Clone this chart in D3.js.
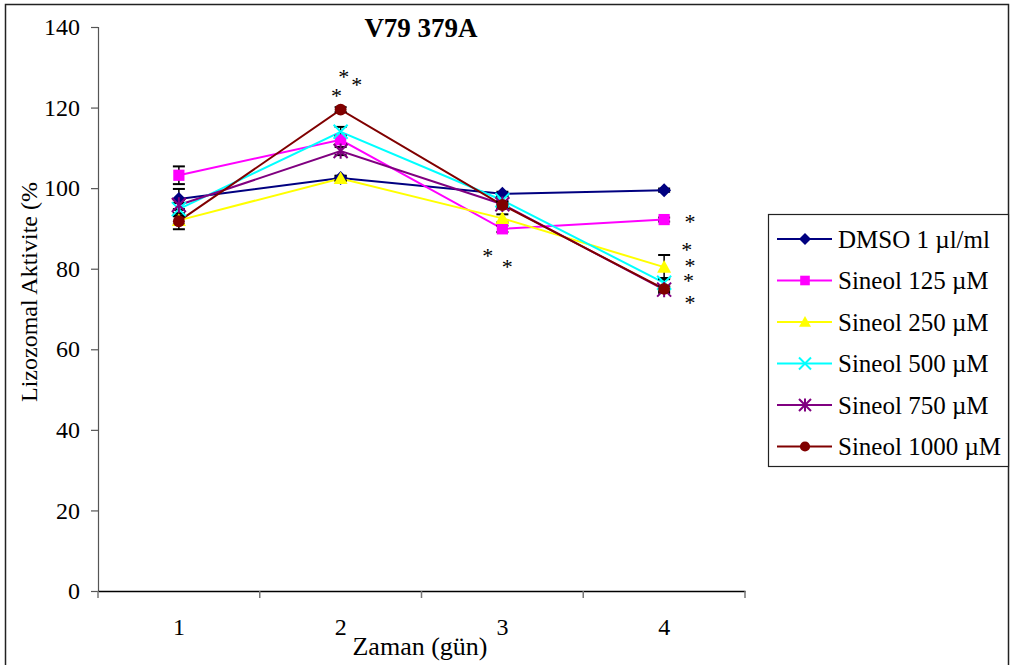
<!DOCTYPE html>
<html>
<head>
<meta charset="utf-8">
<script src="https://cdn.jsdelivr.net/npm/d3@7"></script>
<style>
  body { margin: 0; background: #fff; }
  svg { display: block; font-family: "Liberation Serif", "Times New Roman", serif; }
</style>
</head>
<body>
<div class="chart"></div>
<script>
// days on the x axis
const days = ['1', '2', '3', '4'];

// series names + values (%)
const seriesNames = ['DMSO 1 µl/ml', 'Sineol 125 µM', 'Sineol 250 µM', 'Sineol 500 µM', 'Sineol 750 µM', 'Sineol 1000 µM'];
const dmso   = [97.3, 102.5, 98.6, 99.5];
const s125   = [103.2, 112.0, 89.9, 92.2];
const s250   = [92.0, 102.4, 92.5, 80.4];
const s500   = [94.8, 114.0, 97.0, 76.5];
const s750   = [95.8, 109.2, 96.0, 74.8];
const s1000  = [91.8, 119.5, 95.8, 75.0];

// error bar half widths
const errDmso  = [2.5, 0.6, 0.5, 0.4];
const err125   = [2.2, 1.0, 0.8, 0.5];
const err250   = [1.0, 0.6, 1.0, 3.0];
const err500   = [1.5, 1.2, 1.0, 1.2];
const err750   = [1.2, 1.0, 0.8, 0.8];
const err1000  = [2.0, 0.6, 0.8, 0.6];

// significance stars: [day, offset in days, value]
const starDays   = [2, 2, 2, 3, 3, 4, 4, 4, 4, 4];
const starOffset = [-0.025, 0.02, 0.1, -0.09, 0.03, 0.16, 0.14, 0.16, 0.15, 0.16];
const starValue  = [123.9, 128.6, 126.6, 84.1, 81.4, 92.6, 85.6, 81.7, 77.9, 72.5];

const yTicks = [0, 20, 40, 60, 80, 100, 120, 140];

const colors  = ['#000080', '#ff00ff', '#ffff00', '#00ffff', '#800080', '#800000'];
const symbols = ['diamond', 'square', 'triangle', 'x', 'star', 'circle'];
const values  = [dmso, s125, s250, s500, s750, s1000];
const errors  = [errDmso, err125, err250, err500, err750, err1000];

const W = 1010, H = 665;
const margin = { top: 27, left: 98, right: 265, bottom: 74 };
const width = W - margin.left - margin.right;
const height = H - margin.top - margin.bottom;

const svg = d3.select('.chart')
  .append('svg')
  .attr('width', W)
  .attr('height', H);

// outer frame
svg.append('rect')
  .attr('x', 5.5).attr('y', 4.5)
  .attr('width', 1003).attr('height', 680)
  .attr('fill', 'none')
  .attr('stroke', '#222')
  .attr('stroke-width', 1.5);

const g = svg.append('g')
  .attr('transform', `translate(${margin.left},${margin.top})`);

const xBand = d3.scaleBand().domain(days).range([0, width]);
const x = d3.scalePoint().domain(days).range([0, width]).padding(0.5);
const y = d3.scaleLinear().domain([0, 140]).range([height, 0]);

// y axis
const yAxis = g.append('g')
  .call(d3.axisLeft(y).tickValues(yTicks).tickSize(7).tickPadding(11));
yAxis.select('.domain').attr('stroke', '#555').attr('stroke-width', 1.2);
yAxis.selectAll('.tick line').attr('stroke', '#555').attr('stroke-width', 1.2);
yAxis.selectAll('text')
  .attr('fill', '#000')
  .style('font-size', '24px')
  .style('font-family', '"Liberation Serif", serif');

// x axis
const xAxis = g.append('g')
  .attr('transform', `translate(0,${height})`)
  .call(d3.axisBottom(xBand).tickSize(0).tickPadding(27).tickSizeOuter(0));
xAxis.select('.domain').attr('stroke', '#000').attr('stroke-width', 1.5);
xAxis.selectAll('text')
  .attr('fill', '#000')
  .style('font-size', '24px')
  .style('font-family', '"Liberation Serif", serif');
xAxis.selectAll('.bound')
  .data(d3.range(days.length + 1))
  .join('line')
  .attr('class', 'bound')
  .attr('x1', i => i * xBand.step())
  .attr('x2', i => i * xBand.step())
  .attr('y1', 0)
  .attr('y2', 7)
  .attr('stroke', '#777')
  .attr('stroke-width', 1.5);

// title + axis titles
svg.append('text')
  .attr('x', 421).attr('y', 37)
  .attr('text-anchor', 'middle')
  .style('font-size', '27px')
  .style('font-weight', 'bold')
  .text('V79 379A');

svg.append('text')
  .attr('transform', 'translate(37,292) rotate(-90)')
  .attr('text-anchor', 'middle')
  .style('font-size', '24px')
  .text('Lizozomal Aktivite (%');

svg.append('text')
  .attr('x', 420).attr('y', 655)
  .attr('text-anchor', 'middle')
  .style('font-size', '26px')
  .text('Zaman (gün)');

// marker drawing
function marker(sel, type, color, s) {
  if (type === 'diamond') {
    sel.append('path').attr('d', `M0,${-s}L${s},0L0,${s}L${-s},0Z`).attr('fill', color);
  } else if (type === 'square') {
    sel.append('rect').attr('x', -s * 0.8).attr('y', -s * 0.8)
      .attr('width', s * 1.6).attr('height', s * 1.6).attr('fill', color);
  } else if (type === 'triangle') {
    sel.append('path').attr('d', `M0,${-s}L${s},${s * 0.8}L${-s},${s * 0.8}Z`).attr('fill', color);
  } else if (type === 'x') {
    sel.append('path').attr('d', `M${-s},${-s}L${s},${s}M${-s},${s}L${s},${-s}`)
      .attr('stroke', color).attr('stroke-width', 2);
  } else if (type === 'star') {
    sel.append('path').attr('d', `M${-s},${-s}L${s},${s}M${-s},${s}L${s},${-s}M0,${-s * 1.1}L0,${s * 1.1}`)
      .attr('stroke', color).attr('stroke-width', 2);
  } else {
    sel.append('circle').attr('r', s * 0.85).attr('fill', color);
  }
}

const line = d3.line()
  .x((d, i) => x(days[i]))
  .y(d => y(d));

// lines
values.forEach((vals, k) => {
  g.append('path')
    .datum(vals)
    .attr('d', line)
    .attr('fill', 'none')
    .attr('stroke', colors[k])
    .attr('stroke-width', 2);
});

// error bars
values.forEach((vals, k) => {
  const eb = g.append('g');
  vals.forEach((v, i) => {
    const cx = x(days[i]);
    const e = errors[k][i];
    eb.append('line')
      .attr('x1', cx).attr('x2', cx)
      .attr('y1', y(v - e)).attr('y2', y(v + e))
      .attr('stroke', '#000').attr('stroke-width', 1.5);
    [v - e, v + e].forEach(t => {
      eb.append('line')
        .attr('x1', cx - 6).attr('x2', cx + 6)
        .attr('y1', y(t)).attr('y2', y(t))
        .attr('stroke', '#000').attr('stroke-width', 2);
    });
  });
});

// markers
values.forEach((vals, k) => {
  vals.forEach((v, i) => {
    const m = g.append('g').attr('transform', `translate(${x(days[i])},${y(v)})`);
    marker(m, symbols[k], colors[k], 7);
  });
});

// stars
g.selectAll('.star')
  .data(starValue)
  .join('text')
  .attr('class', 'star')
  .attr('x', (d, i) => x(String(starDays[i])) + starOffset[i] * xBand.step())
  .attr('y', d => y(d))
  .attr('dy', '0.5em')
  .attr('text-anchor', 'middle')
  .style('font-size', '22px')
  .text('*');

// legend
const legend = svg.append('g').attr('transform', 'translate(768,214)');
legend.append('rect')
  .attr('x', 0.5).attr('y', 0.5)
  .attr('width', 240).attr('height', 252)
  .attr('fill', '#fff')
  .attr('stroke', '#222')
  .attr('stroke-width', 1.2);

seriesNames.forEach((name, k) => {
  const row = legend.append('g').attr('transform', `translate(0,${25 + k * 41.5})`);
  row.append('line')
    .attr('x1', 9).attr('x2', 64)
    .attr('stroke', colors[k]).attr('stroke-width', 2);
  const m = row.append('g').attr('transform', 'translate(37,0)');
  marker(m, symbols[k], colors[k], 6);
  row.append('text')
    .attr('x', 70).attr('dy', '0.35em')
    .style('font-size', '25px')
    .text(name);
});
</script>
</body>
</html>
